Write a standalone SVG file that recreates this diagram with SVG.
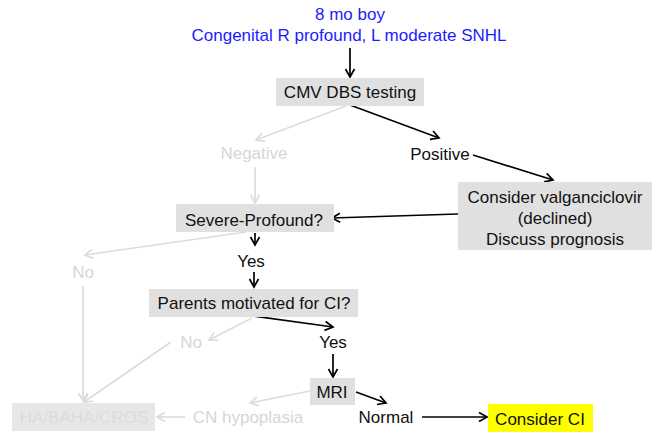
<svg xmlns="http://www.w3.org/2000/svg" width="662" height="432" viewBox="0 0 662 432">
<style>
text{font-family:"Liberation Sans",Arial,Helvetica,sans-serif;font-size:17px;text-anchor:middle;fill:#111}
.blue{fill:#1c1cff}
.faint{fill:#d6d6d6}
.box{fill:#e0e0e0}
.fbox{fill:#e7e7e7}
.ftext{fill:#dcdcdc}
.hl{fill:#ffff00}
.k{stroke:#000;stroke-width:1.7;fill:none;marker-end:url(#ak)}
.g{stroke:#dcdcdc;stroke-width:1.7;fill:none}
.ga{stroke:#dcdcdc;stroke-width:1.7;fill:none;marker-end:url(#ag)}
</style>
<defs>
<marker id="ak" markerUnits="userSpaceOnUse" markerWidth="12" markerHeight="12" refX="9" refY="5" orient="auto" viewBox="0 0 12 10">
<path d="M1,0.5 L9,5 L1,9.5" fill="none" stroke="#000" stroke-width="1.7"/>
</marker>
<marker id="ag" markerUnits="userSpaceOnUse" markerWidth="12" markerHeight="12" refX="9" refY="5" orient="auto" viewBox="0 0 12 10">
<path d="M1,0.5 L9,5 L1,9.5" fill="none" stroke="#dcdcdc" stroke-width="1.7"/>
</marker>
</defs>
<g id="connectors">
<line class="k" x1="350" y1="48" x2="350" y2="77"/>
<line class="k" x1="350" y1="105" x2="439" y2="138"/>
<line class="ga" x1="346" y1="106" x2="256" y2="140"/>
<line class="ga" x1="255" y1="167" x2="255" y2="203"/>
<line class="k" x1="473" y1="155" x2="553" y2="180"/>
<line class="k" x1="458" y1="214" x2="332" y2="218"/>
<line class="k" x1="255" y1="233" x2="255" y2="245"/>
<line class="ga" x1="246" y1="232" x2="85" y2="255"/>
<line class="k" x1="254" y1="272" x2="254" y2="287"/>
<line class="k" x1="253" y1="316" x2="333" y2="327"/>
<line class="ga" x1="252" y1="318" x2="209" y2="340"/>
<line class="ga" x1="83" y1="286" x2="83" y2="401"/>
<line class="ga" x1="171" y1="342" x2="84" y2="402"/>
<line class="k" x1="333" y1="354" x2="333" y2="377"/>
<line class="k" x1="356" y1="392" x2="386" y2="403"/>
<line class="ga" x1="310" y1="391" x2="250" y2="403"/>
<line class="k" x1="422" y1="417" x2="487" y2="417"/>
<line class="ga" x1="185" y1="417" x2="157" y2="417"/>
</g>
<g id="title">
<text class="blue" x="350" y="20">8 mo boy</text>
<text class="blue" x="349" y="41">Congenital R profound, L moderate SNHL</text>
</g>
<g id="cmv">
<rect class="box" x="276" y="78" width="148" height="28"/>
<text x="350" y="98">CMV DBS testing</text>
</g>
<g id="negative"><text class="faint" x="254" y="159">Negative</text></g>
<g id="positive"><text x="440" y="160">Positive</text></g>
<g id="valgan">
<rect class="box" x="458" y="182" width="194" height="68"/>
<text x="555" y="203">Consider valganciclovir</text>
<text x="555" y="224">(declined)</text>
<text x="555" y="245">Discuss prognosis</text>
</g>
<g id="severe">
<rect class="box" x="176" y="204" width="158" height="28"/>
<text x="254" y="226">Severe-Profound?</text>
</g>
<g id="no1"><text class="faint" x="83" y="278">No</text></g>
<g id="yes1"><text x="251" y="267">Yes</text></g>
<g id="parents">
<rect class="box" x="149" y="289" width="209" height="28"/>
<text x="254" y="309">Parents motivated for CI?</text>
</g>
<g id="no2"><text class="faint" x="191" y="348">No</text></g>
<g id="yes2"><text x="333" y="348">Yes</text></g>
<g id="mri">
<rect class="box" x="310" y="378" width="45" height="27"/>
<text x="332" y="398">MRI</text>
</g>
<g id="normal"><text x="386" y="423">Normal</text></g>
<g id="consider-ci">
<rect class="hl" x="488" y="404" width="105" height="28"/>
<text x="540" y="425">Consider CI</text>
</g>
<g id="cn"><text class="faint" x="248" y="423">CN hypoplasia</text></g>
<g id="ha">
<rect class="fbox" x="12" y="403" width="143" height="28"/>
<text class="ftext" x="84" y="423">HA/BAHA/CROS</text>
</g>
</svg>
